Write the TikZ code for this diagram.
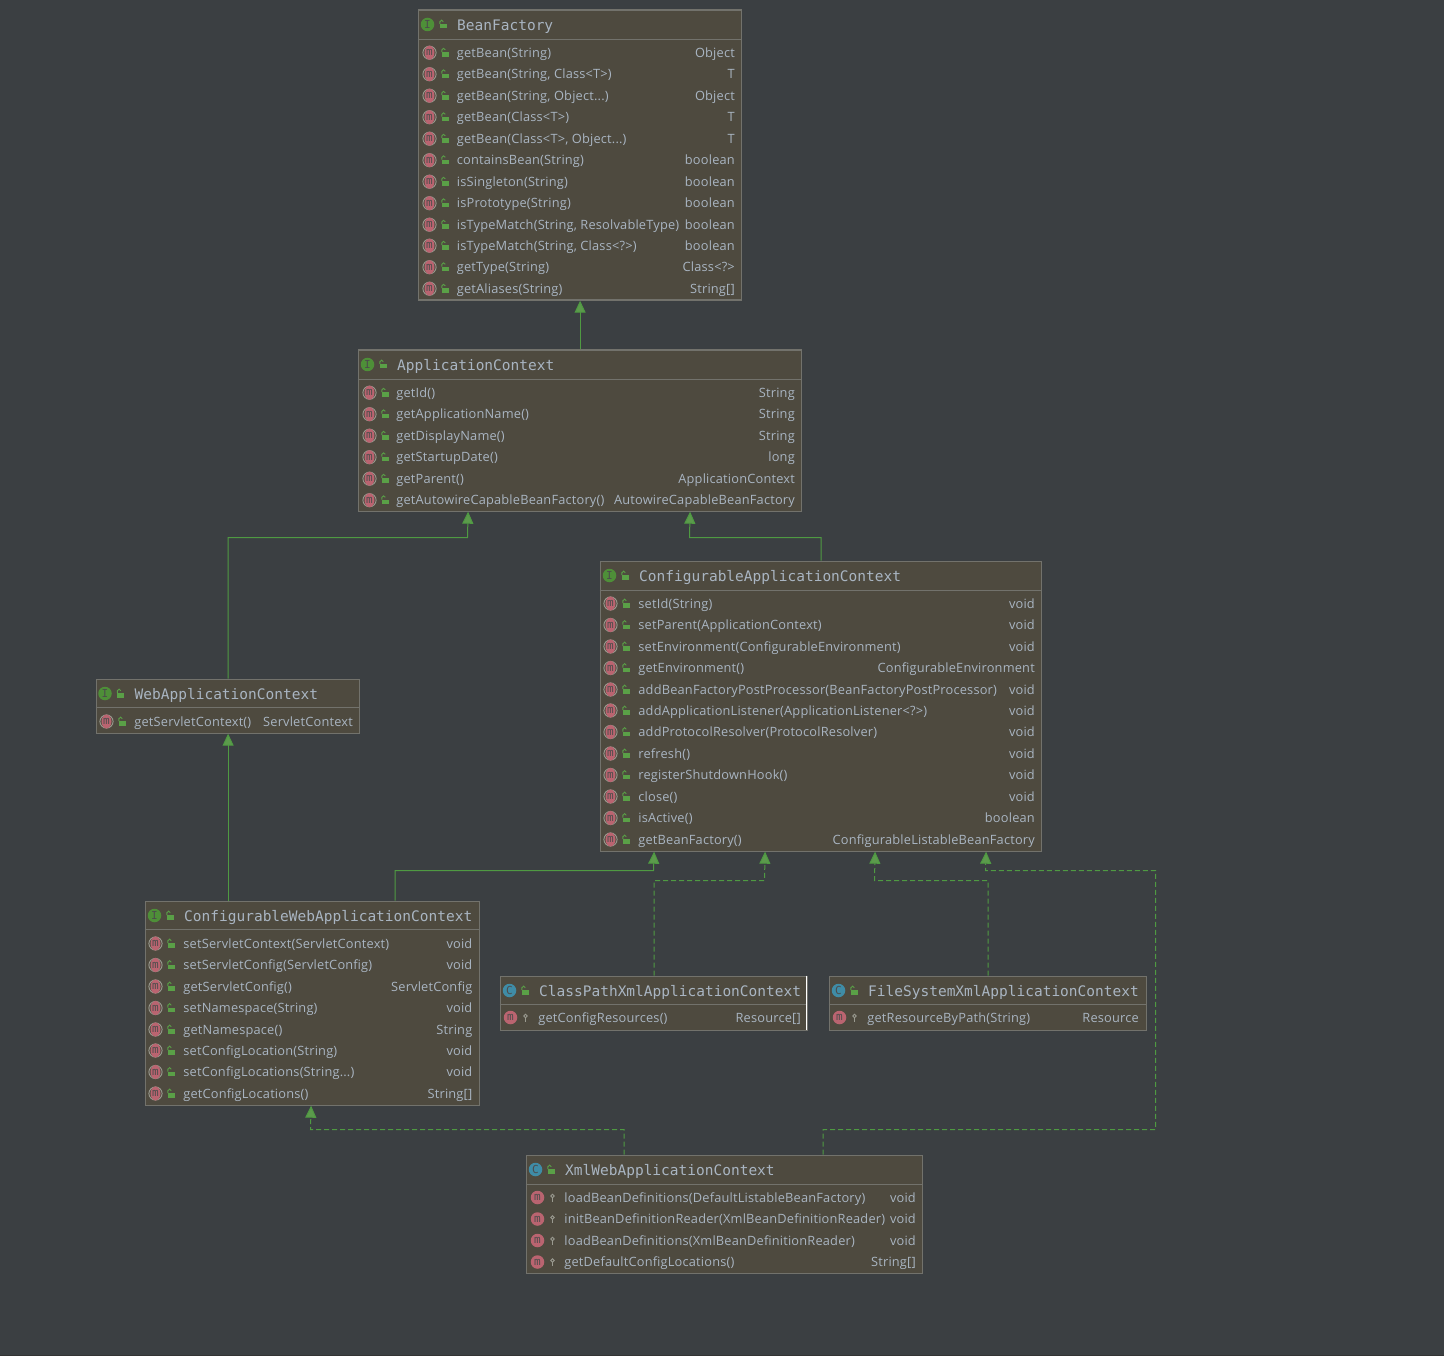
\documentclass[tikz,border=0pt]{standalone}
\usepackage{fontspec}
\setmainfont{Open Sans}[LetterSpace=1.5]
\newfontfamily\hdfont{DejaVu Sans Mono}
\usetikzlibrary{arrows.meta,shapes.geometric}
\definecolor{bg}{HTML}{3B3F42}
\definecolor{boxfill}{HTML}{4E4A3F}
\definecolor{boxline}{HTML}{72726C}
\definecolor{txt}{HTML}{A9B5C2}
\definecolor{inhgreen}{HTML}{4F9A42}
\definecolor{tipgreen}{HTML}{5C9A4C}
\definecolor{mred}{HTML}{BA6470}
\definecolor{igreen}{HTML}{4E8F38}
\definecolor{cblue}{HTML}{3F8CA6}
\definecolor{lockgreen}{HTML}{5AA047}
\definecolor{keygrey}{HTML}{9A9A90}
\newcounter{auton}
\tikzset{
  x=1pt,y=-1pt,
  mtext/.style={text=txt,anchor=base west,inner sep=0pt,font=\fontsize{12.8}{14}\selectfont},
  rtext/.style={text=txt,anchor=base east,inner sep=0pt,font=\fontsize{12.8}{14}\selectfont},
  ttext/.style={text=txt,anchor=base west,inner sep=0pt,font=\hdfont\fontsize{14.5}{16}\selectfont},
  icon/.style={circle,fill=#1,inner sep=0pt,minimum size=13.5pt,text=black!70,font=\hdfont\fontsize{11}{11}\selectfont},
  inh/.style={draw=inhgreen,line width=1pt,-{Triangle[length=12pt,width=11pt,fill=tipgreen]}},
  impl/.style={inh,dash pattern=on 5pt off 3pt},
}
\newcommand{\umlclass}[9]{%
  \node[draw=boxline,fill=boxfill,line width=1.2pt,inner sep=0pt,minimum width={(#4-#2)*1pt},minimum height={(#5-#3)*1pt},anchor=north west] (#1) at (#2,#3) {};
  \draw[boxline,line width=1pt] (#2,#6) -- (#4,#6);
  \def\cname{#1}\def\ctop{#3}\def\cicol{#7}\def\clet{#8}\def\ctitle{#9}%
  \umlclasshead}
\newcommand{\umlclasshead}[1]{%
  \pgfmathsetmacro{\ix}{#1}%
  \node[icon=\cicol] (\cname-icon) at (\ix,\ctop+15) {\clet};
  \publock{\ix+15}{\ctop+15}
  \node[ttext] (\cname-title) at (\ix+29.5,\ctop+21) {\ctitle};
}
\newcommand{\publock}[2]{%
  \fill[lockgreen] ({#1-3},{#2-0.5}) rectangle ({#1+4},{#2+4});
  \draw[lockgreen,line width=.9pt] ({#1-2.6},{#2-0.5}) -- ({#1-2.6},{#2-2.8}) arc[start angle=180,end angle=0,x radius=1.7,y radius=-1.6];
}
\newcommand{\protkey}[2]{%
  \draw[keygrey,line width=.9pt] (#1,{#2-1.5}) circle[radius=1.8];
  \draw[keygrey,line width=1pt] (#1,{#2}) -- (#1,{#2+4});
}
\newcommand{\absrow}[7]{%
  \stepcounter{auton}%
  \draw[keygrey,line width=.9pt] (#2,{#3-4}) circle[radius=6.6];
  \node[ellipse,fill=mred,inner sep=0pt,minimum width=10pt,minimum height=14pt,text=black!70,font=\hdfont\fontsize{11}{11}\selectfont] (#1-i\theauton) at (#2,{#3-4}) {m};
  \publock{#2+15}{#3-4}
  \node[mtext] (#1-m\theauton) at ({#4+0.7},{#3+0.5}) {#6};
  \node[rtext] (#1-r\theauton) at (#5,{#3+0.5}) {#7};
}
\newcommand{\prorow}[7]{%
  \stepcounter{auton}%
  \node[icon=mred] (#1-i\theauton) at (#2,{#3-4}) {m};
  \protkey{#2+15}{#3-4}
  \node[mtext] (#1-m\theauton) at ({#4+0.7},{#3+0.5}) {#6};
  \node[rtext] (#1-r\theauton) at (#5,{#3+0.5}) {#7};
}
\begin{document}
\begin{tikzpicture}
\useasboundingbox (0,0) rectangle (1444,1356);
\fill[bg] (0,0) rectangle (1444,1356);
\fill[black!80] (0,1354.5) rectangle (1444,1356);
\begin{scope}[shift={(-0.5,-0.5)}]
% BeanFactory
\umlclass{bf}{418}{10}{741}{300}{40}{igreen}{I}{BeanFactory}{428}
\absrow{bf}{430}{57.2}{456.5}{735.5}{getBean(String)}{Object}
\absrow{bf}{430}{78.7}{456.5}{735.5}{getBean(String, Class<T>)}{T}
\absrow{bf}{430}{100.2}{456.5}{735.5}{getBean(String, Object...)}{Object}
\absrow{bf}{430}{121.7}{456.5}{735.5}{getBean(Class<T>)}{T}
\absrow{bf}{430}{143.2}{456.5}{735.5}{getBean(Class<T>, Object...)}{T}
\absrow{bf}{430}{164.7}{456.5}{735.5}{containsBean(String)}{boolean}
\absrow{bf}{430}{186.2}{456.5}{735.5}{isSingleton(String)}{boolean}
\absrow{bf}{430}{207.7}{456.5}{735.5}{isPrototype(String)}{boolean}
\absrow{bf}{430}{229.2}{456.5}{735.5}{isTypeMatch(String, ResolvableType)}{boolean}
\absrow{bf}{430}{250.2}{456.5}{735.5}{isTypeMatch(String, Class<?>)}{boolean}
\absrow{bf}{430}{271.7}{456.5}{735.5}{getType(String)}{Class<?>}
\absrow{bf}{430}{293.2}{456.5}{735.5}{getAliases(String)}{String[]}

% ApplicationContext
\umlclass{ac}{358}{350}{801}{511}{380}{igreen}{I}{ApplicationContext}{368}
\absrow{ac}{370}{397.2}{396}{795.5}{getId()}{String}
\absrow{ac}{370}{418.7}{396}{795.5}{getApplicationName()}{String}
\absrow{ac}{370}{440.2}{396}{795.5}{getDisplayName()}{String}
\absrow{ac}{370}{461.7}{396}{795.5}{getStartupDate()}{long}
\absrow{ac}{370}{483.2}{396}{795.5}{getParent()}{ApplicationContext}
\absrow{ac}{370}{504.7}{396}{795.5}{getAutowireCapableBeanFactory()}{AutowireCapableBeanFactory}

% ConfigurableApplicationContext
\umlclass{cac}{600}{561}{1041}{851}{591}{igreen}{I}{ConfigurableApplicationContext}{610}
\absrow{cac}{611}{608}{638}{1035.5}{setId(String)}{void}
\absrow{cac}{611}{629.5}{638}{1035.5}{setParent(ApplicationContext)}{void}
\absrow{cac}{611}{651}{638}{1035.5}{setEnvironment(ConfigurableEnvironment)}{void}
\absrow{cac}{611}{672.5}{638}{1035.5}{getEnvironment()}{ConfigurableEnvironment}
\absrow{cac}{611}{694}{638}{1035.5}{addBeanFactoryPostProcessor(BeanFactoryPostProcessor)}{void}
\absrow{cac}{611}{715}{638}{1035.5}{addApplicationListener(ApplicationListener<?>)}{void}
\absrow{cac}{611}{736.5}{638}{1035.5}{addProtocolResolver(ProtocolResolver)}{void}
\absrow{cac}{611}{758}{638}{1035.5}{refresh()}{void}
\absrow{cac}{611}{779.5}{638}{1035.5}{registerShutdownHook()}{void}
\absrow{cac}{611}{801}{638}{1035.5}{close()}{void}
\absrow{cac}{611}{822.5}{638}{1035.5}{isActive()}{boolean}
\absrow{cac}{611}{844}{638}{1035.5}{getBeanFactory()}{ConfigurableListableBeanFactory}

% WebApplicationContext
\umlclass{wac}{96}{679}{359}{733}{708}{igreen}{I}{WebApplicationContext}{105.5}
\absrow{wac}{107}{726}{134}{353.5}{getServletContext()}{ServletContext}

% ConfigurableWebApplicationContext
\umlclass{cwac}{145}{901}{479}{1105}{930}{igreen}{I}{ConfigurableWebApplicationContext}{155}
\absrow{cwac}{156}{948}{183}{473}{setServletContext(ServletContext)}{void}
\absrow{cwac}{156}{969.5}{183}{473}{setServletConfig(ServletConfig)}{void}
\absrow{cwac}{156}{991}{183}{473}{getServletConfig()}{ServletConfig}
\absrow{cwac}{156}{1012.5}{183}{473}{setNamespace(String)}{void}
\absrow{cwac}{156}{1034}{183}{473}{getNamespace()}{String}
\absrow{cwac}{156}{1055}{183}{473}{setConfigLocation(String)}{void}
\absrow{cwac}{156}{1076.5}{183}{473}{setConfigLocations(String...)}{void}
\absrow{cwac}{156}{1098}{183}{473}{getConfigLocations()}{String[]}

% ClassPathXmlApplicationContext
\umlclass{cp}{500}{976}{807}{1030}{1005}{cblue}{C}{ClassPathXmlApplicationContext}{510}
\prorow{cp}{511}{1022}{538}{801.5}{getConfigResources()}{Resource[]}
\draw[white,line width=1.2pt] (807,976) -- (807,1030);

% FileSystemXmlApplicationContext
\umlclass{fs}{829}{976}{1146}{1030}{1005}{cblue}{C}{FileSystemXmlApplicationContext}{839}
\prorow{fs}{840}{1022}{867}{1139.5}{getResourceByPath(String)}{Resource}

% XmlWebApplicationContext
\umlclass{xw}{526}{1155}{922}{1273}{1185}{cblue}{C}{XmlWebApplicationContext}{536}
\prorow{xw}{538}{1202}{564}{916.5}{loadBeanDefinitions(DefaultListableBeanFactory)}{void}
\prorow{xw}{538}{1223.5}{564}{916.5}{initBeanDefinitionReader(XmlBeanDefinitionReader)}{void}
\prorow{xw}{538}{1245}{564}{916.5}{loadBeanDefinitions(XmlBeanDefinitionReader)}{void}
\prorow{xw}{538}{1266.5}{564}{916.5}{getDefaultConfigLocations()}{String[]}

% connectors
\draw[inh] ([xshift=.5pt]ac.north) -- ([xshift=.5pt]bf.south);
\draw[inh] ([xshift=.5pt]wac.north) |- (468,538) -- ([xshift=-111.5pt]ac.south);
\draw[inh] ([xshift=.5pt]cac.north) |- (690,538) -- ([xshift=110.5pt]ac.south);
\draw[inh] ([xshift=-84pt]cwac.north) -- ([xshift=.5pt]wac.south);
\draw[inh] ([xshift=83pt]cwac.north) |- (654,871) -- ([xshift=-166.5pt]cac.south);
\draw[impl] ([xshift=.5pt]cp.north) |- (765,881) -- ([xshift=-55.5pt]cac.south);
\draw[impl] ([xshift=.5pt]fs.north) |- (875,881) -- ([xshift=54.5pt]cac.south);
\draw[impl] ([xshift=-100pt]xw.north) |- (311,1130) -- ([xshift=-1pt]cwac.south);
\draw[impl] ([xshift=99pt]xw.north) |- (1156,1130) |- (986,871) -- ([xshift=165.5pt]cac.south);
\end{scope}
\end{tikzpicture}
\end{document}
